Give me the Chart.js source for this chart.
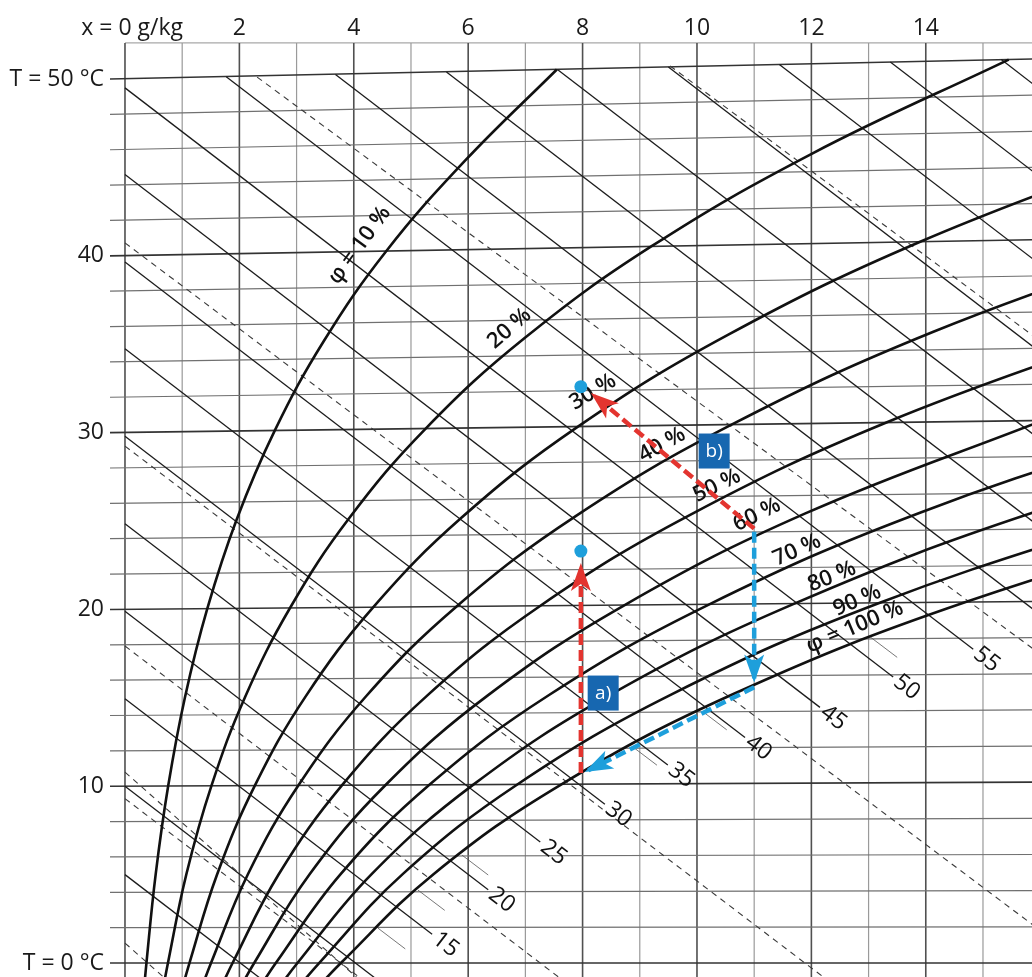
<!DOCTYPE html>
<html lang="de">
<head>
<meta charset="UTF-8">
<title>h,x-Diagramm</title>
<script src="https://cdn.jsdelivr.net/npm/chart.js"></script>
<style>
    html, body { margin: 0; padding: 0; background: #fff; }
    #wrap { width: 1032px; height: 977px; }
</style>
</head>
<body>
<div id="wrap"><canvas id="chart" width="1032" height="977"></canvas></div>
<script>
// visible range: x in g/kg, y in °C (value of the isotherm at x = 0)
const xRange = [-2.185, 15.857];
const yRange = [-0.79, 54.47];

// tick labels
const xTicks = [0, 2, 4, 6, 8, 10, 12, 14];
const xTickLabels = ['x = 0 g/kg', '2', '4', '6', '8', '10', '12', '14'];
const tTicks = [0, 10, 20, 30, 40, 50];
const tTickLabels = ['T = 0 °C', '10', '20', '30', '40', 'T = 50 °C'];

// vertical lines (g/kg) and top edge of the grid
const xLines = [0, 1, 2, 3, 4, 5, 6, 7, 8, 9, 10, 11, 12, 13, 14, 15];
const gridTop = 52.04;

// isotherms every 2 °C: left stub start, value at x = 0 and at the right edge
const isoLeftX = -0.262;
const isoT = [0, 2, 4, 6, 8, 10, 12, 14, 16, 18, 20, 22, 24, 26, 28, 30, 32, 34, 36, 38, 40, 42, 44, 46, 48, 50];
const isoTRight = [0, 2.05, 4.09, 6.14, 8.18, 10.23, 12.27, 14.32, 16.36, 18.41, 20.45, 22.50, 24.54, 26.59,
    28.64, 30.68, 32.73, 34.77, 36.82, 38.86, 40.91, 42.95, 45.00, 47.04, 49.09, 51.13];

// enthalpy lines h (kJ/kg)
const hValues = [5, 10, 15, 20, 25, 30, 35, 40, 45, 50, 55, 60, 65, 70, 75, 80, 85, 90];
const hStart = [[0, 5.0], [0, 10.0], [0, 14.95], [0, 19.9], [0, 24.85], [0, 29.8], [0, 34.75], [0, 39.65],
    [0, 44.6], [0, 49.5], [1.77, 50.13], [3.68, 50.26], [5.62, 50.40], [7.56, 50.54], [9.50, 50.68],
    [11.44, 50.82], [13.38, 50.96], [15.32, 51.10]];
const hEnd = [[2.4, -0.95], [4.4, -0.92], [5.37, 1.63], [6.35, 4.15], [7.26, 6.84], [8.39, 8.98], [9.49, 11.2],
    [10.84, 12.76], [12.15, 14.46], [13.43, 16.18], [14.83, 17.75], [16.2, 19.21], [16.2, 24.16],
    [16.2, 29.11], [16.2, 34.06], [16.2, 39.01], [16.2, 43.96], [16.2, 48.91]];
const hLabeled = [15, 20, 25, 30, 35, 40, 45, 50, 55];

// dashed lines (wet-bulb / fog isotherms)
const wetBulb = [
    [[9.53, 50.74], [16.2, 34.7]],
    [[2.31, 50.11], [16.2, 17.0]],
    [[0, 40.73], [16.2, 1.36]],
    [[0, 29.24], [12.4, -1.26]],
    [[0, 17.93], [7.7, -1.09]],
    [[0, 9.3], [4.2, -1.06]],
    [[0, 10.8], [4.1, -0.95]],
    [[0, 1.13], [0.7, -0.87]]
];
// short thin fog isotherm stubs
const fogStubs = [
    [[4.42, 1.98], [4.90, 0.80]],
    [[5.12, 4.13], [5.59, 2.98]],
    [[5.89, 6.11], [6.35, 4.98]],
    [[8.88, 12.22], [9.30, 11.19]],
    [[10.11, 14.20], [10.52, 13.19]],
    [[13.03, 18.44], [13.50, 17.29]]
];

// relative humidity curves [x g/kg, y]
const phi10 = [[0.32, -2.0], [0.375, 0], [0.536, 5.0], [0.755, 10.01], [1.048, 15.02], [1.439, 20.04], [1.951, 25.07], [2.618, 30.11], [3.474, 35.17], [4.566, 40.26], [5.945, 45.38], [7.55, 50.54]];
const phi20 = [[0.635, -2.0], [0.751, 0], [1.072, 5.01], [1.511, 10.02], [2.100, 15.05], [2.885, 20.08], [3.915, 25.14], [5.257, 30.23], [6.987, 35.35], [9.200, 40.53], [12.005, 45.77], [15.45, 51.10]];
const phi30 = [[0.953, -2.0], [1.127, 0], [1.610, 5.01], [2.270, 10.03], [3.156, 15.07], [4.338, 20.12], [5.891, 25.21], [7.919, 30.34], [10.540, 35.53], [13.902, 40.80], [18.183, 46.17]];
const phi40 = [[1.272, -2.0], [1.504, 0], [2.149, 5.02], [3.030, 10.04], [4.215, 15.09], [5.797, 20.17], [7.880, 25.28], [10.604, 30.45], [14.133, 35.71], [18.676, 41.07]];
const phi50 = [[1.590, -2.0], [1.881, 0], [2.688, 5.02], [3.792, 10.05], [5.278, 15.11], [7.263, 20.21], [9.881, 25.35], [13.311, 30.57], [17.768, 35.89]];
const phi60 = [[1.909, -2.01], [2.259, 0], [3.228, 5.02], [4.556, 10.07], [6.344, 15.14], [8.736, 20.25], [11.895, 25.43], [16.042, 30.69]];
const phi70 = [[2.229, -2.01], [2.637, 0], [3.770, 5.03], [5.322, 10.08], [7.414, 15.16], [10.216, 20.29], [13.922, 25.50], [18.797, 30.81]];
const phi80 = [[2.549, -2.01], [3.015, 0], [4.312, 5.03], [6.090, 10.09], [8.487, 15.18], [11.703, 20.33], [15.962, 25.57], [21.575, 30.93]];
const phi90 = [[2.869, -2.01], [3.394, 0], [4.855, 5.03], [6.859, 10.10], [9.565, 15.21], [13.197, 20.38], [18.015, 25.64]];
const phi100 = [[3.190, -2.01], [3.774, 0], [5.399, 5.04], [7.631, 10.11], [10.646, 15.23], [14.698, 20.42], [20.082, 25.72]];
const phiCurves = [phi10, phi20, phi30, phi40, phi50, phi60, phi70, phi80, phi90, phi100];
const phiNames = ['φ = 10 %', '20 %', '30 %', '40 %', '50 %', '60 %', '70 %', '80 %', '90 %', 'φ = 100 %'];

// process a) heating, b) and the blue cooling path
const procA = [[7.97, 10.75], [7.97, 22.4]];
const procB = [[11.0, 24.57], [8.2, 32.1]];
const procC1 = [[11.0, 24.4], [11.0, 16.1]];
const procC2 = [[11.0, 15.6], [8.1, 10.9]];
const statePoints = [[7.97, 23.3], [7.97, 32.6]];
const boxNames = ['a)', 'b)'];

// label placement (data coordinates, degrees)
const phiLabelAt = [[4.1, 40.6, -54], [6.72, 35.9, -41], [8.18, 32.3, -31], [9.39, 29.3, -29], [10.35, 27.0, -26],
    [11.05, 25.35, -26], [11.75, 23.35, -24], [12.36, 21.85, -22], [12.80, 20.5, -23], [12.76, 19.0, -23]];
const boxAt = [[8.36, 15.27], [10.3, 28.96]];

const RED = '#e3342f';
const BLUE = '#1e9fdb';
const BOX = '#1767b0';
const FONT = '"Open Sans", "DejaVu Sans", sans-serif';

const pts = arr => arr.map(p => ({ x: p[0], y: p[1] }));
const datasets = [];
function addLine(arr, style, order) {
    datasets.push(Object.assign({
        data: pts(arr), showLine: true, pointRadius: 0, pointHoverRadius: 0,
        fill: false, tension: 0, capBezierPoints: false, order: order
    }, style));
}

xLines.forEach(v => addLine([[v, gridTop], [v, yRange[0] - 0.5]],
    { borderColor: v % 2 ? '#9a9a9a' : '#505050', borderWidth: v % 2 ? 1.2 : 1.6 }, 30));
addLine([[0, gridTop], [xRange[1], gridTop]], { borderColor: '#a8a8a8', borderWidth: 1.2 }, 30);
isoT.forEach((t, i) => addLine([[isoLeftX, t], [xRange[1], isoTRight[i]]],
    { borderColor: t % 10 ? '#707070' : '#333', borderWidth: t % 10 ? 1.2 : 1.6 }, 29));
hValues.forEach((h, i) => addLine([hStart[i], hEnd[i]], { borderColor: '#1c1c1c', borderWidth: 1.3 }, 20));
wetBulb.forEach(l => addLine(l, { borderColor: '#3a3a3a', borderWidth: 1.1, borderDash: [6, 5] }, 19));
fogStubs.forEach(l => addLine(l, { borderColor: '#555', borderWidth: 0.8 }, 19));
phiCurves.forEach(c => addLine(c, { borderColor: '#111', borderWidth: 2.6, tension: 0.4 }, 10));

const procStyle = c => ({ borderColor: c, borderWidth: 4.5, borderDash: [11, 5], arrowColor: c, isProcess: true });
addLine(procA, procStyle(RED), 3);
addLine(procB, procStyle(RED), 3);
addLine(procC1, procStyle(BLUE), 2);
addLine(procC2, procStyle(BLUE), 2);
datasets.push({
    data: pts(statePoints), showLine: false, pointRadius: 6.5, pointHoverRadius: 6.5,
    backgroundColor: BLUE, borderWidth: 0, order: 0, isProcess: true
});

function arrowHead(ctx, from, tip, color) {
    const ang = Math.atan2(tip.y - from.y, tip.x - from.x);
    ctx.save();
    ctx.translate(tip.x, tip.y);
    ctx.rotate(ang);
    ctx.fillStyle = color;
    ctx.beginPath();
    ctx.moveTo(4, 0);
    ctx.lineTo(-24, -10);
    ctx.lineTo(-17, 0);
    ctx.lineTo(-24, 10);
    ctx.closePath();
    ctx.fill();
    ctx.restore();
}

function drawLabels(chart) {
    const { ctx, scales: { x, y } } = chart;
    ctx.save();
    ctx.fillStyle = '#111';
    ctx.textAlign = 'center';
    ctx.textBaseline = 'middle';

    // relative humidity labels
    ctx.font = '600 22px ' + FONT;
    phiNames.forEach((name, i) => {
        const a = phiLabelAt[i];
        ctx.save();
        ctx.translate(x.getPixelForValue(a[0]), y.getPixelForValue(a[1]));
        ctx.rotate(a[2] * Math.PI / 180);
        ctx.fillText(name, 0, 0);
        ctx.restore();
    });

    // enthalpy labels at the line ends
    ctx.font = '23px ' + FONT;
    hLabeled.forEach(h => {
        const i = hValues.indexOf(h);
        const x0 = x.getPixelForValue(hStart[i][0]), y0 = y.getPixelForValue(hStart[i][1]);
        const x1 = x.getPixelForValue(hEnd[i][0]), y1 = y.getPixelForValue(hEnd[i][1]);
        const ang = Math.atan2(y1 - y0, x1 - x0);
        ctx.save();
        ctx.translate(x1 + Math.cos(ang) * 17, y1 + Math.sin(ang) * 17);
        ctx.rotate(ang);
        ctx.fillText(String(h), 0, 0);
        ctx.restore();
    });
    ctx.restore();
}

const overlay = {
    id: 'overlay',
    beforeDraw(chart) {
        chart.$labelsDone = false;
    },
    beforeDatasetDraw(chart, args) {
        const ds = chart.data.datasets[args.index];
        if (ds.isProcess && !chart.$labelsDone) {
            drawLabels(chart);
            chart.$labelsDone = true;
        }
    },
    afterDatasetDraw(chart, args) {
        const ds = chart.data.datasets[args.index];
        if (ds.arrowColor) {
            const p = args.meta.data;
            arrowHead(chart.ctx, p[p.length - 2], p[p.length - 1], ds.arrowColor);
        }
    },
    afterDraw(chart) {
        const { ctx, scales: { x, y } } = chart;
        ctx.save();
        ctx.fillStyle = '#1a1a1a';
        ctx.font = '23px ' + FONT;
        ctx.textBaseline = 'middle';

        // top axis (g/kg)
        const topY = y.getPixelForValue(gridTop) - 15;
        xTicks.forEach((v, i) => {
            const px = x.getPixelForValue(v);
            if (v === 0) {
                const w = ctx.measureText('x = ').width + ctx.measureText('0').width / 2;
                ctx.textAlign = 'left';
                ctx.fillText(xTickLabels[i], px - w, topY);
            } else {
                ctx.textAlign = 'center';
                ctx.fillText(xTickLabels[i], px, topY);
            }
        });

        // left axis (°C)
        ctx.textAlign = 'right';
        const leftX = x.getPixelForValue(0) - 21;
        tTicks.forEach((t, i) => ctx.fillText(tTickLabels[i], leftX, y.getPixelForValue(t)));

        // process boxes
        ctx.font = '19px ' + FONT;
        ctx.textAlign = 'center';
        boxNames.forEach((name, i) => {
            const cx = x.getPixelForValue(boxAt[i][0]), cy = y.getPixelForValue(boxAt[i][1]);
            ctx.fillStyle = BOX;
            ctx.fillRect(cx - 15.5, cy - 17.5, 31, 35);
            ctx.fillStyle = '#fff';
            ctx.fillText(name, cx, cy + 1);
        });
        ctx.restore();
    }
};

new Chart(document.getElementById('chart'), {
    type: 'scatter',
    data: { datasets: datasets },
    options: {
        responsive: false,
        animation: false,
        events: [],
        devicePixelRatio: 1,
        layout: { padding: 0, autoPadding: false },
        plugins: { legend: { display: false }, tooltip: { enabled: false } },
        scales: {
            x: { type: 'linear', display: false, min: xRange[0], max: xRange[1] },
            y: { type: 'linear', display: false, min: yRange[0], max: yRange[1] }
        }
    },
    plugins: [overlay]
});
</script>
</body>
</html>
